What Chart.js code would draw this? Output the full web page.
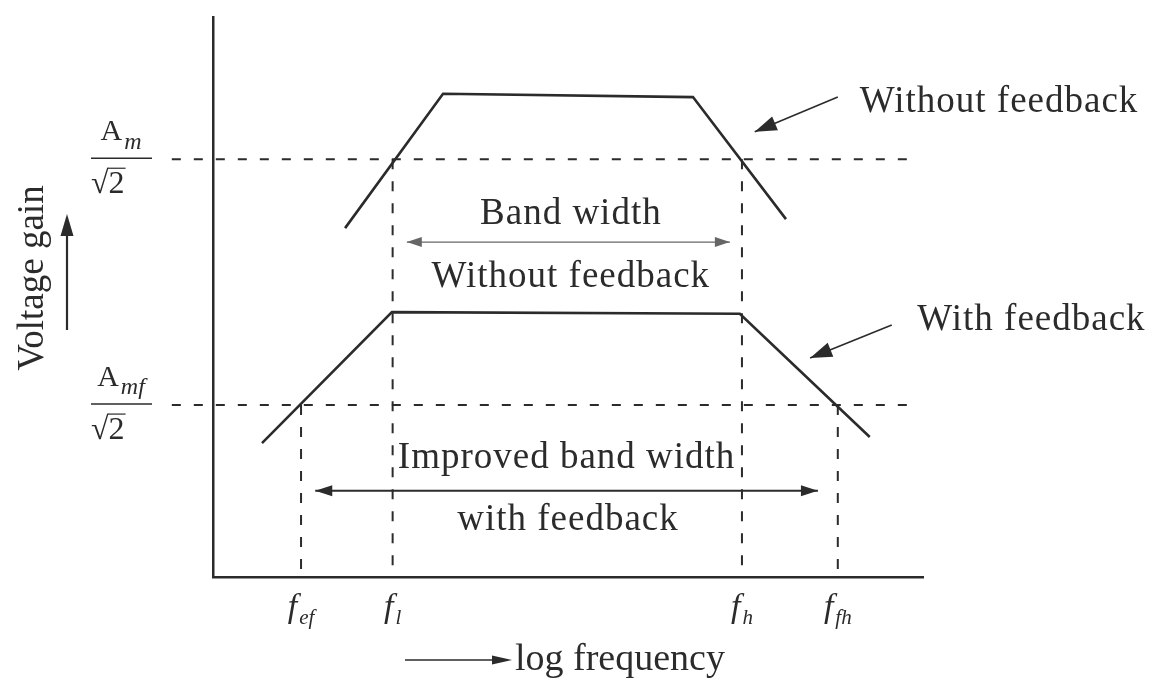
<!DOCTYPE html>
<html>
<head>
<meta charset="utf-8">
<title>Voltage gain vs log frequency</title>
<script src="https://cdn.jsdelivr.net/npm/chart.js@4.4.1/dist/chart.umd.min.js"></script>
<style>
  html, body { margin: 0; padding: 0; background: #fff; }
  #wrap { width: 1153px; height: 679px; }
</style>
</head>
<body>
<div id="wrap"><canvas id="gainChart"></canvas></div>
<script>
// x = log frequency, y = voltage gain (both in arbitrary units, 0-100)
const cornerNames = ["ef", "l", "h", "fh"];
const cornerFreqs = [12.4, 25.3, 74.5, 88.0];
const cornerLevel = [1, 0, 0, 1]; // which half-power level each corner sits on

const withoutFbX = [18.6, 32.4, 67.6, 80.7];
const withoutFbY = [62.3, 86.3, 85.7, 63.9];
const withFbX = [6.9, 25.2, 74.2, 92.5];
const withFbY = [23.9, 47.3, 47.0, 25.0];

const halfPowerLevels = [74.6, 30.7]; // Am/√2, Amf/√2
const levelNames = ["m", "mf"];
const guideSpan = [-5.8, 99];

const bwWithoutX = [27.3, 72.8];
const bwWithoutY = 59.8;
const bwWithX = [14.4, 85.2];
const bwWithY = 15.4;

// pointer arrows: [fromX, fromY, toX, toY]
const pointerWithout = [88.0, 85.7, 76.3, 79.5];
const pointerWith = [95.6, 45.0, 84.1, 39.1];

// text labels placed in data units
const plotLabels = [
  { text: "Without feedback", x: 91.1, y: 84.8, align: "left" },
  { text: "With feedback", x: 99.2, y: 45.9, align: "left" },
  { text: "Band width", x: 50.4, y: 64.8, align: "center" },
  { text: "Without feedback", x: 50.4, y: 53.6, align: "center" },
  { text: "Improved band width", x: 49.8, y: 21.2, align: "center" },
  { text: "with feedback", x: 50.0, y: 10.2, align: "center" },
];

const INK = "#2b2b2b";
const SERIF = "'Liberation Serif', 'DejaVu Serif', serif";

function pts(xs, ys) {
  return xs.map((x, i) => ({ x, y: Array.isArray(ys) ? ys[i] : ys }));
}

function segment(data, extra) {
  return Object.assign(
    {
      data,
      borderColor: INK,
      backgroundColor: INK,
      borderWidth: 2,
      pointRadius: 0,
      fill: false,
      tension: 0,
      clip: false,
    },
    extra
  );
}

const datasets = [
  segment(pts(withoutFbX, withoutFbY), { borderWidth: 2.6 }),
  segment(pts(withFbX, withFbY), { borderWidth: 2.6 }),
];

halfPowerLevels.forEach((lv) => {
  datasets.push(segment(pts(guideSpan, [lv, lv]), { borderDash: [9, 13] }));
});

cornerFreqs.forEach((f, i) => {
  const lv = halfPowerLevels[cornerLevel[i]];
  datasets.push(segment(pts([f, f], [lv, 0]), { borderDash: [10, 12] }));
});

datasets.push(
  segment(pts(bwWithoutX, bwWithoutY), { borderWidth: 1.4, borderColor: "#666", arrows: "both", headLen: 15, headHalf: 5 }),
  segment(pts(bwWithX, bwWithY), { borderWidth: 2, arrows: "both", headLen: 17, headHalf: 5.5 }),
  segment(pts([pointerWithout[0], pointerWithout[2]], [pointerWithout[1], pointerWithout[3]]), { borderWidth: 1.6, arrows: "end", headLen: 22, headHalf: 7.5 }),
  segment(pts([pointerWith[0], pointerWith[2]], [pointerWith[1], pointerWith[3]]), { borderWidth: 1.6, arrows: "end", headLen: 22, headHalf: 7.5 })
);

function arrowHead(ctx, x0, y0, x1, y1, len, half) {
  const a = Math.atan2(y1 - y0, x1 - x0);
  const bx = x1 - len * Math.cos(a);
  const by = y1 - len * Math.sin(a);
  ctx.beginPath();
  ctx.moveTo(x1, y1);
  ctx.lineTo(bx + half * Math.sin(a), by - half * Math.cos(a));
  ctx.lineTo(bx - half * Math.sin(a), by + half * Math.cos(a));
  ctx.closePath();
  ctx.fill();
}

// main text with italic subscript, centred on cx
function subLabel(ctx, main, sub, cx, baseline, mainSize, subSize, italicMain) {
  const mainFont = (italicMain ? "italic " : "") + mainSize + "px " + SERIF;
  const subFont = "italic " + subSize + "px " + SERIF;
  ctx.font = mainFont;
  const w1 = ctx.measureText(main).width;
  ctx.font = subFont;
  const w2 = ctx.measureText(sub).width;
  const left = cx - (w1 + w2 + 2) / 2;
  ctx.textAlign = "left";
  ctx.textBaseline = "alphabetic";
  ctx.font = mainFont;
  ctx.fillText(main, left, baseline);
  ctx.font = subFont;
  ctx.fillText(sub, left + w1 + 2, baseline + subSize * 0.35);
}

const decorations = {
  id: "decorations",
  afterDatasetsDraw(chart) {
    const { ctx, chartArea, scales } = chart;
    const x = scales.x;
    const y = scales.y;
    ctx.save();
    ctx.fillStyle = INK;
    ctx.strokeStyle = INK;

    // arrowheads
    chart.data.datasets.forEach((ds, i) => {
      if (!ds.arrows) return;
      const p = chart.getDatasetMeta(i).data;
      ctx.fillStyle = ds.borderColor;
      const a = p[0], b = p[p.length - 1];
      arrowHead(ctx, a.x, a.y, b.x, b.y, ds.headLen, ds.headHalf);
      if (ds.arrows === "both") arrowHead(ctx, b.x, b.y, a.x, a.y, ds.headLen, ds.headHalf);
    });
    ctx.fillStyle = INK;

    // labels inside / beside the plot
    ctx.font = "37px " + SERIF;
    ctx.textBaseline = "middle";
    ctx.letterSpacing = "1px";
    plotLabels.forEach((l) => {
      ctx.textAlign = l.align;
      ctx.fillText(l.text, x.getPixelForValue(l.x), y.getPixelForValue(l.y));
    });
    ctx.letterSpacing = "0px";

    // corner-frequency tick labels
    cornerFreqs.forEach((f, i) => {
      subLabel(ctx, "f", cornerNames[i], x.getPixelForValue(f), chartArea.bottom + 40, 34, 21, true);
    });

    // half-power gain labels: A_m / √2
    halfPowerLevels.forEach((lv, i) => {
      const py = y.getPixelForValue(lv);
      const cx = chartArea.left - 92;
      subLabel(ctx, "A", levelNames[i], cx, py - 19, 30, 24, false);
      ctx.lineWidth = 1.5;
      ctx.beginPath();
      ctx.moveTo(cx - 30, py - 1);
      ctx.lineTo(cx + 31, py - 1);
      ctx.stroke();
      ctx.font = "32px " + SERIF;
      ctx.textAlign = "left";
      ctx.textBaseline = "alphabetic";
      ctx.fillText("√", cx - 30, py + 34);
      const rw = ctx.measureText("√").width;
      ctx.fillText("2", cx - 30 + rw, py + 34);
      const tw = ctx.measureText("2").width;
      ctx.lineWidth = 1.2;
      ctx.beginPath();
      ctx.moveTo(cx - 30 + rw - 1, py + 9);
      ctx.lineTo(cx - 30 + rw + tw + 1, py + 9);
      ctx.stroke();
    });

    // y axis title with upward arrow
    ctx.save();
    ctx.translate(chartArea.left - 180, 278);
    ctx.rotate(-Math.PI / 2);
    ctx.font = "37px " + SERIF;
    ctx.textAlign = "center";
    ctx.textBaseline = "middle";
    ctx.fillText("Voltage gain", 0, 0);
    ctx.restore();
    const ax = chartArea.left - 146;
    ctx.lineWidth = 2.2;
    ctx.beginPath();
    ctx.moveTo(ax, 330);
    ctx.lineTo(ax, 230);
    ctx.stroke();
    arrowHead(ctx, ax, 330, ax, 214, 22, 6.5);

    // x axis title with rightward arrow
    const ty = chartArea.bottom + 83;
    ctx.lineWidth = 1.4;
    ctx.beginPath();
    ctx.moveTo(405, ty);
    ctx.lineTo(500, ty);
    ctx.stroke();
    arrowHead(ctx, 405, ty, 512, ty, 20, 4.5);
    ctx.font = "38px " + SERIF;
    ctx.textAlign = "left";
    ctx.textBaseline = "middle";
    ctx.fillText("log frequency", 515, ty);

    ctx.restore();
  },
};

new Chart(document.getElementById("gainChart"), {
  type: "line",
  data: { datasets },
  options: {
    responsive: true,
    maintainAspectRatio: false,
    animation: false,
    layout: { padding: { left: 213, right: 230, top: 17, bottom: 102 } },
    plugins: { legend: { display: false }, tooltip: { enabled: false } },
    scales: {
      x: {
        type: "linear",
        min: 0,
        max: 100,
        grid: { display: false, drawTicks: false },
        ticks: { display: false },
        border: { display: true, color: INK, width: 2.5 },
      },
      y: {
        type: "linear",
        min: 0,
        max: 100,
        grid: { display: false, drawTicks: false },
        ticks: { display: false },
        border: { display: true, color: INK, width: 2.5 },
      },
    },
  },
  plugins: [decorations],
});
</script>
</body>
</html>
